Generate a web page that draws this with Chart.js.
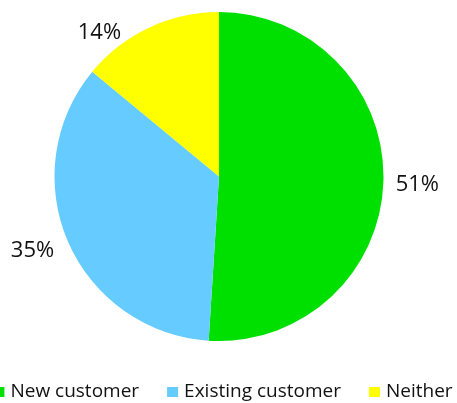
<!DOCTYPE html>
<html>
<head>
<meta charset="utf-8">
<script src="https://cdn.jsdelivr.net/npm/chart.js@4/dist/chart.umd.min.js"></script>
<style>
  html, body { margin: 0; padding: 0; background: #fff; overflow: hidden; }
  #wrap { position: relative; width: 457px; height: 403px; }
</style>
</head>
<body>
<div id="wrap"><canvas id="pie" width="457" height="403"></canvas></div>
<script>
// Customer split
const categories = ['New customer', 'Existing customer', 'Neither'];
const shares = [51, 35, 14];
const sliceColors = ['#00E000', '#66CCFF', '#FFFF00'];

const FONT = '"Open Sans", "Liberation Sans", sans-serif';

// small nudges for the outside percentage labels (Excel best-fit style)
const labelNudge = [[0, 2], [-3, -5], [-37, 32]];

// Percent labels placed just outside each slice
const outsideLabels = {
    id: 'outsideLabels',
    afterDatasetsDraw(chart) {
        const ctx = chart.ctx;
        const meta = chart.getDatasetMeta(0);
        ctx.save();
        ctx.font = '22px ' + FONT;
        ctx.fillStyle = '#111';
        ctx.textAlign = 'center';
        ctx.textBaseline = 'middle';
        meta.data.forEach((arc, i) => {
            const p = arc.getProps(['x', 'y', 'startAngle', 'endAngle', 'outerRadius'], true);
            const mid = (p.startAngle + p.endAngle) / 2;
            const txt = shares[i] + '%';
            const w = ctx.measureText(txt).width;
            const cx = Math.cos(mid), cy = Math.sin(mid);
            const proj = Math.abs(cx) * w / 2 + Math.abs(cy) * 9;
            const d = p.outerRadius + 12 + proj;
            ctx.fillText(txt, p.x + cx * d + labelNudge[i][0], p.y + cy * d + labelNudge[i][1]);
        });
        ctx.restore();
    }
};

// Legend row along the bottom, wider than the canvas like the original
const bottomLegend = {
    id: 'bottomLegend',
    afterDraw(chart) {
        const ctx = chart.ctx;
        const box = 11, gap = 6, spacing = 28, y = 392;
        ctx.save();
        ctx.font = '19px ' + FONT;
        ctx.textBaseline = 'middle';
        const widths = categories.map(c => ctx.measureText(c).width);
        const total = widths.reduce((a, b) => a + b, 0) + categories.length * (box + gap) + spacing * (categories.length - 1);
        let x = 223 - total / 2;
        categories.forEach((c, i) => {
            ctx.fillStyle = sliceColors[i];
            ctx.fillRect(x, y - 5, box, 10);
            x += box + gap;
            ctx.fillStyle = '#111';
            ctx.fillText(c, x, y);
            x += widths[i] + spacing;
        });
        ctx.restore();
    }
};

new Chart(document.getElementById('pie'), {
    type: 'pie',
    data: {
        labels: categories,
        datasets: [{
            data: shares,
            backgroundColor: sliceColors,
            borderWidth: 0
        }]
    },
    options: {
        responsive: false,
        animation: false,
        layout: { padding: { left: 54, right: 73, top: 12, bottom: 62 } },
        plugins: {
            legend: { display: false },
            tooltip: { enabled: false }
        }
    },
    plugins: [outsideLabels, bottomLegend]
});
</script>
</body>
</html>
